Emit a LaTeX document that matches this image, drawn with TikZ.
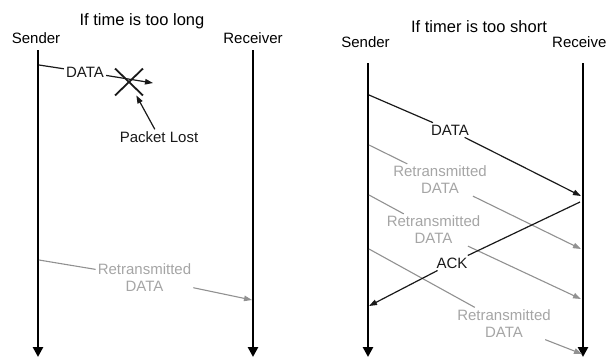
\documentclass[tikz,border=0pt]{standalone}
\usepackage{fontspec}
\setmainfont{Liberation Sans}
\usetikzlibrary{arrows.meta,shapes.misc}
\definecolor{msggray}{RGB}{145,145,145}
\definecolor{txtgray}{RGB}{165,165,165}
\definecolor{msgdark}{RGB}{25,25,25}
\begin{document}
\begin{tikzpicture}[x=1pt,y=-1pt,
  lbl/.style={font=\fontsize{15}{17}\selectfont, inner sep=2pt, align=center, text=msgdark},
  ttl/.style={font=\fontsize{16.5}{18}\selectfont, anchor=base, inner sep=0pt},
  hdr/.style={font=\fontsize{15}{17}\selectfont, anchor=base, inner sep=0pt},
  timeline/.style={line width=2.6pt, -{Triangle[width=10pt,length=10pt]}},
  msg/.style={line width=1.2pt, msgdark, -{Triangle[width=5.5pt,length=8pt]}},
  remsg/.style={line width=1.1pt, msggray, -{Triangle[width=5.5pt,length=8pt]}},
  retxt/.style={lbl, text=txtgray},
]
\useasboundingbox (0,0) rectangle (607,360);

% ---------- left panel ----------
\node[ttl] (titleL) at (142,25) {If time is too long};
\node[hdr] (sL) at (36,43) {Sender};
\node[hdr] (rL) at (253,43) {Receiver};
\coordinate (sLtop) at (38,50);
\coordinate (sLbot) at (38,357);
\coordinate (rLtop) at (253,50);
\coordinate (rLbot) at (253,357);
\draw[timeline] (sLtop) -- (sLbot);
\draw[timeline] (rLtop) -- (rLbot);

% lost data
\coordinate (dL1) at (39,65);
\coordinate (dL2) at (153,83);
\node[lbl] (dataL) at (85,72) {DATA};
\draw[msg] (dL1) -- (dataL) -- (dL2);
\node[draw=msgdark, cross out, line width=1.8pt, minimum width=26pt, minimum height=25pt, inner sep=0pt] (lost) at (129,82) {};
\node[lbl] (pl) at (159,137) {Packet Lost};
\draw[msg] (pl) -- (lost);

% retransmitted
\coordinate (rtL1) at (39,260);
\coordinate (rtL2) at (252,300);
\node[retxt] (rtxtL) at (144.5,277.5) {Retransmitted\\DATA};
\draw[remsg] (rtL1) -- (rtxtL) -- (rtL2);

% ---------- right panel ----------
\node[ttl] (titleR) at (479,32) {If timer is too short};
\node[hdr] (sR) at (365.5,47) {Sender};
\node[hdr, anchor=base west] (rR) at (552,47) {Receive};
\coordinate (sRtop) at (368,63);
\coordinate (sRbot) at (368,357);
\coordinate (rRtop) at (583,63);
\coordinate (rRbot) at (583,357);
\draw[timeline] (sRtop) -- (sRbot);
\draw[timeline] (rRtop) -- (rRbot);

% data
\coordinate (dR1) at (369,95);
\coordinate (dR2) at (581,196);
\node[lbl] (dataR) at (450,130) {DATA};
\draw[msg] (dR1) -- (dataR) -- (dR2);

% retransmissions
\coordinate (r1a) at (369,145);
\coordinate (r1b) at (581,249);
\node[retxt] (r1t) at (440,180) {Retransmitted\\DATA};
\draw[remsg] (r1a) -- (r1t) -- (r1b);

\coordinate (r2a) at (369,195);
\coordinate (r2b) at (581,299);
\node[retxt] (r2t) at (433.5,230) {Retransmitted\\DATA};
\draw[remsg] (r2a) -- (r2t) -- (r2b);

\coordinate (r3a) at (369,249);
\coordinate (r3b) at (582,354);
\node[retxt] (r3t) at (504,323.5) {Retransmitted\\DATA};
\draw[remsg] (r3a) -- (r3t) -- (r3b);

% ack
\coordinate (ack1) at (580,202);
\coordinate (ack2) at (369,306);
\node[lbl] (ack) at (452,263) {ACK};
\draw[msg] (ack1) -- (ack) -- (ack2);
\end{tikzpicture}
\end{document}
